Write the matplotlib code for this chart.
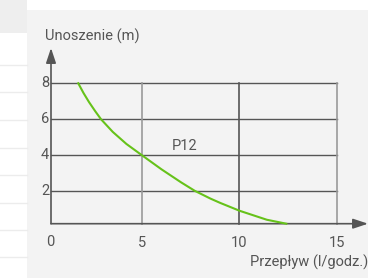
import matplotlib.pyplot as plt
from matplotlib.patches import Rectangle
from matplotlib.lines import Line2D

# flow (l/h) vs head (m)
flow = [1.73, 2.0, 2.28, 2.6, 2.9, 3.5, 4.2, 5.0, 6.0, 7.0, 7.7, 8.5, 9.0, 10.0, 11.4, 12.4]
head = [8.0, 7.46, 6.96, 6.45, 6.0, 5.3, 4.63, 4.0, 3.22, 2.5, 2.03, 1.6, 1.36, 0.92, 0.42, 0.2]
x_ticks = [5, 10, 15]
y_ticks = [2, 4, 6, 8]
curve_label = 'P12'
x_title = 'Przepływ (l/godz.)'
y_title = 'Unoszenie (m)'

W, H = 368, 278
plt.rcParams['font.family'] = ['Roboto', 'DejaVu Sans']
txt = '#555555'
dark = '#555555'
light = '#999999'
fs = 10.5

fig = plt.figure(figsize=(W / 100, H / 100), dpi=100, facecolor='white')

# page background: grey panel plus faint table lines on the left
fig.patches.append(Rectangle((27 / W, 0), 1, 1 - 10 / H, transform=fig.transFigure,
                             facecolor='#f3f3f3', edgecolor='none', zorder=-5))
fig.patches.append(Rectangle((0, 1 - 33 / H), 27 / W, 33 / H, transform=fig.transFigure,
                             facecolor='#eeeeee', edgecolor='none', zorder=-5))
for yp in [65, 92, 120, 148, 175, 203, 230, 257]:
    fig.lines.append(Line2D([0, 27 / W], [1 - yp / H] * 2, transform=fig.transFigure,
                            color='#ececec', lw=1, zorder=-4))

xmin, xmax = 0.333, 16.59
ymin, ymax = 0.2, 9.96
ax = fig.add_axes([51 / W, (H - 223.7) / H, 317 / W, (223.7 - 48) / H])
ax.set_xlim(xmin, xmax)
ax.set_ylim(ymin, ymax)
ax.axis('off')
ax.patch.set_alpha(0)

# grid
for y in y_ticks:
    ax.plot([xmin, 15], [y, y], color=dark, lw=1.0, zorder=2, clip_on=False)
for x in x_ticks:
    ax.plot([x, x], [ymin, 8], color=dark if x == 10 else light, lw=1.2, zorder=2,
            clip_on=False)

# axes with arrows
ax.annotate('', xy=(xmax, ymin), xytext=(xmin, ymin),
            arrowprops=dict(arrowstyle='-|>,head_length=0.9,head_width=0.3',
                            color=dark, lw=1.2, shrinkA=0, shrinkB=0), annotation_clip=False)
ax.annotate('', xy=(xmin, ymax), xytext=(xmin, ymin),
            arrowprops=dict(arrowstyle='-|>,head_length=0.9,head_width=0.3',
                            color=dark, lw=1.2, shrinkA=0, shrinkB=0), annotation_clip=False)

ax.plot(flow, head, color='#66c21a', lw=1.5, zorder=3, clip_on=False,
        solid_joinstyle='round')

# labels
for y in y_ticks:
    ax.text(xmin - 0.1, y, str(y), ha='right', va='center', fontsize=fs, color=txt)
for x in x_ticks:
    ax.text(x, -0.85, str(x), ha='center', va='center', fontsize=fs, color=txt)
ax.text(0.3, -0.8, '0', ha='center', va='center', fontsize=fs, color=txt)
ax.text(6.54, 4.5, curve_label, ha='left', va='center', fontsize=fs, color=txt)

fig.text(368 / W, 1 - 262 / H, x_title, ha='right', va='center', fontsize=fs, color=txt)
fig.text(45 / W, 1 - 36 / H, y_title, ha='left', va='center', fontsize=fs, color=txt)

fig.savefig('out.png', dpi=100, facecolor='white')
